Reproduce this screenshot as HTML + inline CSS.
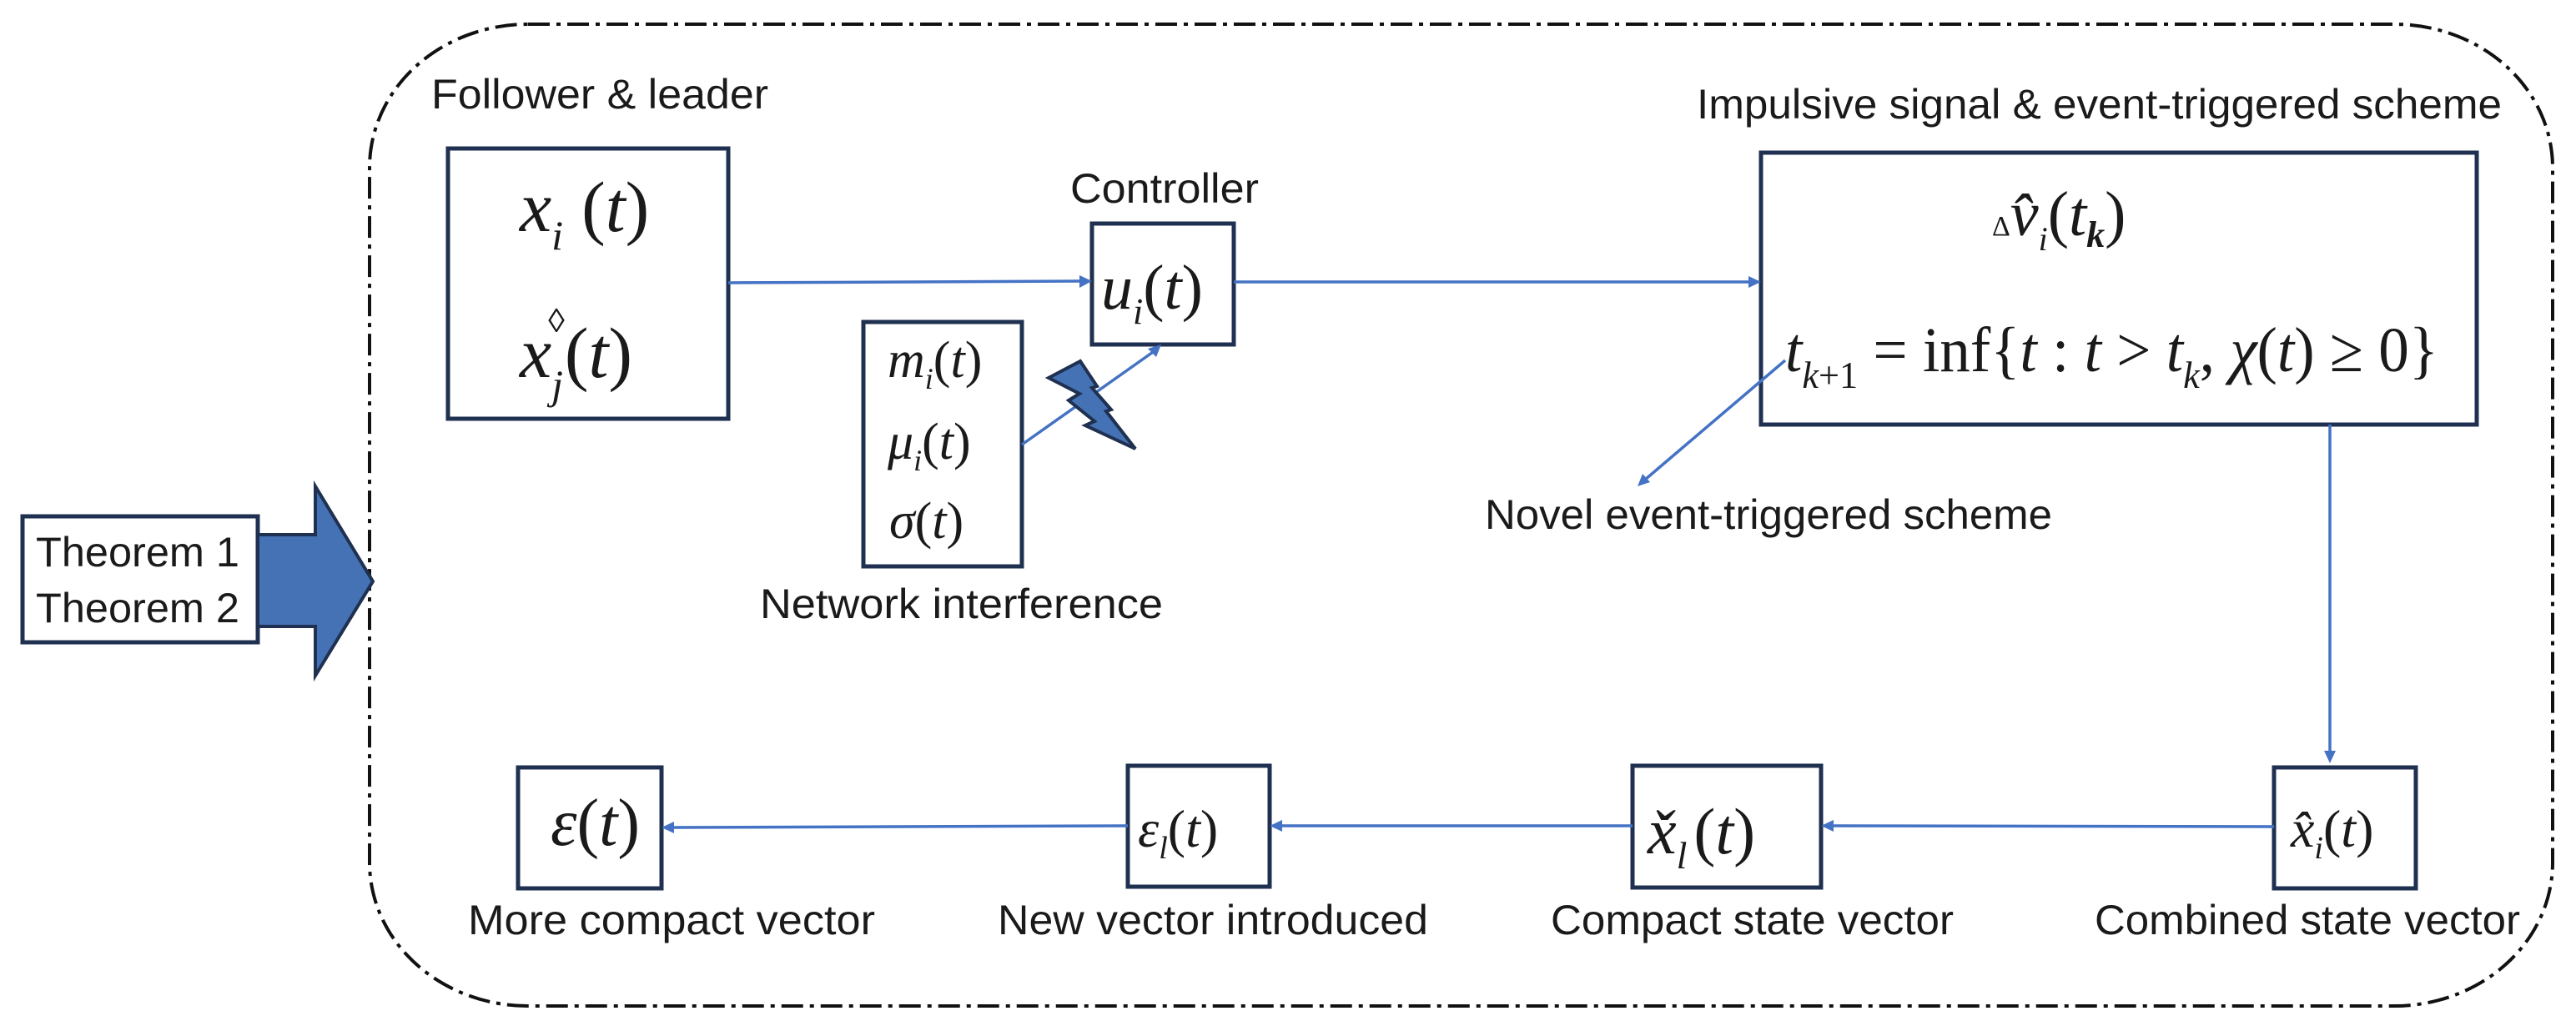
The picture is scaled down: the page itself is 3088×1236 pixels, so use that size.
<!DOCTYPE html>
<html><head><meta charset="utf-8"><style>
html,body{margin:0;padding:0;background:#fff;}
svg{display:block;}
.lbl{font-family:"Liberation Sans Narrow","Liberation Sans",sans-serif;font-size:50px;fill:#1a1a1a;}
.m{font-family:"Liberation Serif",serif;font-style:italic;fill:#1a1a1a;}
.r{font-style:normal;}
</style></head><body>
<svg width="3088" height="1236" viewBox="0 0 3088 1236" xmlns="http://www.w3.org/2000/svg">
<defs>
<marker id="ah" markerWidth="10" markerHeight="10" refX="9" refY="5" orient="auto" markerUnits="userSpaceOnUse" viewBox="0 0 10 10">
</marker>
</defs>
<!-- dashed outer border -->
<path d="M633,29 H2870 A190,172 0 0 1 3060,201 V1034 A190,172 0 0 1 2870,1206 H633 A190,172 0 0 1 443,1034 V201 A190,172 0 0 1 633,29 Z" fill="none" stroke="#111" stroke-width="4" stroke-dasharray="26,8,5,8"/>

<g fill="none" stroke="#1f3050" stroke-width="5">
<rect x="537" y="178" width="336" height="324"/>
<rect x="1309" y="268" width="170" height="145"/>
<rect x="1035" y="386" width="190" height="293"/>
<rect x="2111" y="183" width="858" height="326"/>
<rect x="27" y="619" width="282" height="151"/>
<rect x="621" y="920" width="172" height="145"/>
<rect x="1352" y="918" width="170" height="145"/>
<rect x="1957" y="918" width="226" height="146"/>
<rect x="2726" y="920" width="170" height="145"/>
</g>

<!-- big arrow -->
<polygon points="309,641 378,641 378,583 447,697 378,810 378,751 309,751" fill="#4472b4" stroke="#1f3050" stroke-width="4"/>

<!-- connectors -->
<g stroke="#4472c4" stroke-width="3.5" fill="none">
<line x1="873" y1="339" x2="1296" y2="337"/>
<line x1="1479" y1="338" x2="2098" y2="338"/>
<line x1="1225" y1="533" x2="1385" y2="420"/>
<line x1="2140" y1="432" x2="1972" y2="575"/>
<line x1="2793" y1="509" x2="2793" y2="902"/>
<line x1="2726" y1="991" x2="2196" y2="990"/>
<line x1="1957" y1="990" x2="1535" y2="990"/>
<line x1="1352" y1="990" x2="806" y2="992"/>
</g>
<g fill="#4472c4">
<polygon points="1309,337 1294,330 1294,345"/>
<polygon points="2111,338 2096,331 2096,345"/>
<polygon points="1392,413 1376,418 1386,428"/>
<polygon points="1963,583 1969,568 1978,578"/>
<polygon points="2793,915 2786,900 2800,900"/>
<polygon points="2183,990 2198,983 2198,997"/>
<polygon points="1522,990 1537,983 1537,997"/>
<polygon points="793,992 808,985 808,999"/>
</g>

<!-- lightning -->
<polygon points="1257,453 1295,433 1315,463 1309,465 1332,491 1326,493 1361,538 1301,510 1312,505 1281,480 1294,472" fill="#4472b4" stroke="#1f3050" stroke-width="4" stroke-linejoin="miter"/>

<!-- labels -->
<text class="lbl" x="517" y="130" textLength="404" lengthAdjust="spacingAndGlyphs">Follower &amp; leader</text>
<text class="lbl" x="1283" y="243" textLength="226" lengthAdjust="spacingAndGlyphs">Controller</text>
<text class="lbl" x="911" y="741" textLength="483" lengthAdjust="spacingAndGlyphs">Network interference</text>
<text class="lbl" x="2034" y="142" textLength="965" lengthAdjust="spacingAndGlyphs">Impulsive signal &amp; event-triggered scheme</text>
<text class="lbl" x="1780" y="634" textLength="680" lengthAdjust="spacingAndGlyphs">Novel event-triggered scheme</text>
<text class="lbl" x="43" y="679" textLength="244" lengthAdjust="spacingAndGlyphs">Theorem 1</text>
<text class="lbl" x="43" y="746" textLength="244" lengthAdjust="spacingAndGlyphs">Theorem 2</text>
<text class="lbl" x="561" y="1120" textLength="488" lengthAdjust="spacingAndGlyphs">More compact vector</text>
<text class="lbl" x="1196" y="1120" textLength="516" lengthAdjust="spacingAndGlyphs">New vector introduced</text>
<text class="lbl" x="1859" y="1120" textLength="483" lengthAdjust="spacingAndGlyphs">Compact state vector</text>
<text class="lbl" x="2511" y="1120" textLength="510" lengthAdjust="spacingAndGlyphs">Combined state vector</text>

<!-- math -->
<text class="m" x="623" y="277" font-size="86">x<tspan font-size="50" dy="22">i</tspan><tspan dy="-22" dx="22" class="r">(</tspan>t<tspan class="r">)</tspan></text>
<text class="m" x="623" y="452" font-size="86">x<tspan font-size="50" dy="26">j</tspan><tspan font-size="40" dx="-18" dy="-80" class="r">◊</tspan><tspan dy="54" class="r">(</tspan>t<tspan class="r">)</tspan></text>
<text class="m" x="1320" y="370" font-size="76">u<tspan font-size="44" dy="18">i</tspan><tspan dy="-18" class="r">(</tspan>t<tspan class="r">)</tspan></text>
<text class="m" x="1064" y="452" font-size="62">m<tspan font-size="36" dy="14">i</tspan><tspan dy="-14" class="r">(</tspan>t<tspan class="r">)</tspan></text>
<text class="m" x="1064" y="550" font-size="62">μ<tspan font-size="36" dy="14">i</tspan><tspan dy="-14" class="r">(</tspan>t<tspan class="r">)</tspan></text>
<text class="m" x="1066" y="645" font-size="62">σ<tspan class="r">(</tspan>t<tspan class="r">)</tspan></text>
<text class="m" x="2388" y="282" font-size="76"><tspan class="r" font-size="34">Δ</tspan>v̂<tspan font-size="40" dy="18">i</tspan><tspan dy="-18" class="r">(</tspan>t<tspan font-size="44" dy="14" font-weight="bold">k</tspan><tspan dy="-14" class="r">)</tspan></text>
<text class="m" x="2140" y="445" font-size="76" textLength="783" lengthAdjust="spacingAndGlyphs">t<tspan font-size="46" dy="20">k</tspan><tspan font-size="46" class="r">+1</tspan><tspan dy="-20" class="r"> = inf{</tspan>t<tspan class="r"> : </tspan>t<tspan class="r"> &gt; </tspan>t<tspan font-size="46" dy="20">k</tspan><tspan dy="-20" class="r">, </tspan>χ<tspan class="r">(</tspan>t<tspan class="r">) ≥ 0}</tspan></text>
<text class="m" x="660" y="1013" font-size="80">ε<tspan class="r">(</tspan>t<tspan class="r">)</tspan></text>
<text class="m" x="1364" y="1015" font-size="64">ε<tspan font-size="38" dy="14">l</tspan><tspan dy="-14" class="r">(</tspan>t<tspan class="r">)</tspan></text>
<text class="m" x="1975" y="1023" font-size="78">x̌<tspan font-size="46" dy="18">l</tspan><tspan dy="-18" dx="8" class="r">(</tspan>t<tspan class="r">)</tspan></text>
<text class="m" x="2746" y="1015" font-size="64">x̂<tspan font-size="38" dy="14">i</tspan><tspan dy="-14" class="r">(</tspan>t<tspan class="r">)</tspan></text>
</svg>
</body></html>
